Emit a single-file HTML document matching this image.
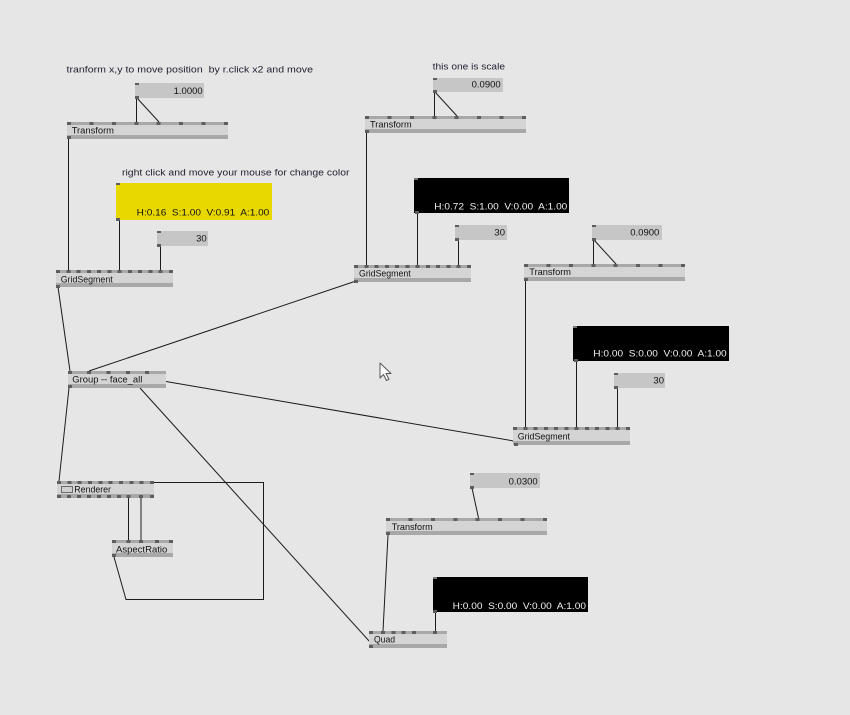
<!DOCTYPE html>
<html><head><meta charset="utf-8"><style>
html,body{margin:0;padding:0;background:#e6e6e6;}
svg{display:block;}
text{font-family:"Liberation Sans",sans-serif;font-size:9.5px;fill:#111;}
.c{fill:#1e1e2e;}
.w{fill:#f2f2f2;}
.nb{fill:#c6c6c6;}
.bd{fill:#d4d4d4;}
.bar{fill:#a8a8a8;}
.pin{fill:#5e5e5e;}
</style></head><body>
<svg width="850" height="715" viewBox="0 0 850 715" xmlns="http://www.w3.org/2000/svg">
<rect width="850" height="715" fill="#e6e6e6"/>

<!-- links -->
<g stroke="#1c1c1c" stroke-width="1" fill="none">
<line x1="136.5" y1="98" x2="136.5" y2="122"/>
<line x1="137" y1="98" x2="159" y2="122"/>
<line x1="68.5" y1="139" x2="68.5" y2="270"/>
<line x1="119.5" y1="220" x2="119.5" y2="270"/>
<line x1="160.5" y1="246" x2="160.5" y2="270"/>
<line x1="58" y1="287" x2="70" y2="371"/>
<line x1="89" y1="371" x2="356" y2="281"/>
<line x1="166" y1="381.5" x2="514" y2="441"/>
<line x1="140" y1="388" x2="370" y2="642"/>
<line x1="69" y1="388" x2="59" y2="481"/>
<line x1="128.5" y1="498" x2="128.5" y2="540"/>
<line x1="141" y1="498" x2="141" y2="540"/>
<polyline points="152,482.5 263.5,482.5 263.5,599.5 126,599.5 114,557"/>
<line x1="434.5" y1="92" x2="434.5" y2="116"/>
<line x1="435" y1="92" x2="457" y2="116"/>
<line x1="366.5" y1="133" x2="366.5" y2="265"/>
<line x1="417.5" y1="213" x2="417.5" y2="265"/>
<line x1="458.5" y1="240" x2="458.5" y2="265"/>
<line x1="593.5" y1="240" x2="593.5" y2="264"/>
<line x1="594" y1="240" x2="616" y2="264"/>
<line x1="525.5" y1="281" x2="525.5" y2="427"/>
<line x1="576.5" y1="361" x2="576.5" y2="427"/>
<line x1="617.5" y1="388" x2="617.5" y2="427"/>
<line x1="472" y1="488" x2="478.5" y2="518"/>
<line x1="388" y1="535" x2="383" y2="631"/>
<line x1="435.5" y1="612" x2="435.5" y2="631"/>
</g>

<!-- comments -->
<text x="66.5" y="72.5" textLength="246.5" lengthAdjust="spacingAndGlyphs" class="c" xml:space="preserve">tranform x,y to move position  by r.click x2 and move</text>
<text x="122" y="175.7" textLength="227.5" lengthAdjust="spacingAndGlyphs" class="c">right click and move your mouse for change color</text>
<text x="432.7" y="69.3" textLength="72.3" lengthAdjust="spacingAndGlyphs" class="c">this one is scale</text>

<g shape-rendering="crispEdges">
<!-- number boxes -->
<rect x="135" y="83" width="69" height="15" class="nb"/><rect x="135" y="83" width="4" height="2" class="pin"/><rect x="135" y="96" width="4" height="3" class="pin"/>
<rect x="157" y="231" width="51" height="15" class="nb"/><rect x="157" y="231" width="4" height="2" class="pin"/><rect x="157" y="244" width="4" height="3" class="pin"/>
<rect x="433" y="78" width="70" height="14" class="nb"/><rect x="433" y="78" width="4" height="2" class="pin"/><rect x="433" y="90" width="4" height="3" class="pin"/>
<rect x="455" y="225" width="52" height="15" class="nb"/><rect x="455" y="225" width="4" height="2" class="pin"/><rect x="455" y="238" width="4" height="3" class="pin"/>
<rect x="592" y="225" width="70" height="15" class="nb"/><rect x="592" y="225" width="4" height="2" class="pin"/><rect x="592" y="238" width="4" height="3" class="pin"/>
<rect x="614" y="373" width="51" height="15" class="nb"/><rect x="614" y="373" width="4" height="2" class="pin"/><rect x="614" y="386" width="4" height="3" class="pin"/>
<rect x="470" y="473" width="70" height="15" class="nb"/><rect x="470" y="473" width="4" height="2" class="pin"/><rect x="470" y="486" width="4" height="3" class="pin"/>

<!-- color boxes -->
<rect x="116" y="183" width="156" height="37" fill="#e8d800"/><rect x="116" y="183" width="4" height="2" class="pin"/><rect x="116" y="218" width="4" height="3" class="pin"/>
<rect x="414" y="178" width="155" height="35" fill="#000"/><rect x="414" y="178" width="4" height="2" fill="#777"/><rect x="415" y="211" width="4" height="3" class="pin"/>
<rect x="573" y="326" width="156" height="35" fill="#000"/><rect x="573" y="326" width="4" height="2" fill="#777"/><rect x="574" y="359" width="4" height="3" class="pin"/>
<rect x="433" y="577" width="155" height="35" fill="#000"/><rect x="433" y="577" width="4" height="2" fill="#777"/><rect x="433" y="610" width="4" height="3" class="pin"/>

<!-- nodes: Transform1 -->
<rect x="67" y="122" width="161" height="17" class="bd"/><rect x="67" y="122" width="161" height="3" class="bar"/><rect x="67" y="135" width="161" height="4" class="bar"/>
<g class="pin"><rect x="67" y="122" width="4" height="3"/><rect x="89.4" y="122" width="4" height="3"/><rect x="111.9" y="122" width="4" height="3"/><rect x="134.3" y="122" width="4" height="3"/><rect x="156.7" y="122" width="4" height="3"/><rect x="179.1" y="122" width="4" height="3"/><rect x="201.6" y="122" width="4" height="3"/><rect x="224" y="122" width="4" height="3"/><rect x="67" y="136" width="4" height="3"/></g>

<!-- Transform2 -->
<rect x="365" y="116" width="161" height="17" class="bd"/><rect x="365" y="116" width="161" height="3" class="bar"/><rect x="365" y="129" width="161" height="4" class="bar"/>
<g class="pin"><rect x="365" y="116" width="4" height="3"/><rect x="387.4" y="116" width="4" height="3"/><rect x="409.9" y="116" width="4" height="3"/><rect x="432.3" y="116" width="4" height="3"/><rect x="454.7" y="116" width="4" height="3"/><rect x="477.1" y="116" width="4" height="3"/><rect x="499.6" y="116" width="4" height="3"/><rect x="522" y="116" width="4" height="3"/><rect x="365" y="130" width="4" height="3"/></g>

<!-- Transform3 -->
<rect x="524" y="264" width="161" height="17" class="bd"/><rect x="524" y="264" width="161" height="3" class="bar"/><rect x="524" y="277" width="161" height="4" class="bar"/>
<g class="pin"><rect x="524" y="264" width="4" height="3"/><rect x="546.4" y="264" width="4" height="3"/><rect x="568.9" y="264" width="4" height="3"/><rect x="591.3" y="264" width="4" height="3"/><rect x="613.7" y="264" width="4" height="3"/><rect x="636.1" y="264" width="4" height="3"/><rect x="658.6" y="264" width="4" height="3"/><rect x="681" y="264" width="4" height="3"/><rect x="524" y="278" width="4" height="3"/></g>

<!-- Transform4 -->
<rect x="386" y="518" width="161" height="17" class="bd"/><rect x="386" y="518" width="161" height="3" class="bar"/><rect x="386" y="531" width="161" height="4" class="bar"/>
<g class="pin"><rect x="386" y="518" width="4" height="3"/><rect x="408.4" y="518" width="4" height="3"/><rect x="430.9" y="518" width="4" height="3"/><rect x="453.3" y="518" width="4" height="3"/><rect x="475.7" y="518" width="4" height="3"/><rect x="498.1" y="518" width="4" height="3"/><rect x="520.6" y="518" width="4" height="3"/><rect x="543" y="518" width="4" height="3"/><rect x="386" y="532" width="4" height="3"/></g>

<!-- GridSegment1 -->
<rect x="56" y="270" width="117" height="17" class="bd"/><rect x="56" y="270" width="117" height="3" class="bar"/><rect x="56" y="283" width="117" height="4" class="bar"/>
<g class="pin"><rect x="56" y="270" width="4" height="3"/><rect x="66.3" y="270" width="4" height="3"/><rect x="76.5" y="270" width="4" height="3"/><rect x="86.8" y="270" width="4" height="3"/><rect x="97.1" y="270" width="4" height="3"/><rect x="107.4" y="270" width="4" height="3"/><rect x="117.6" y="270" width="4" height="3"/><rect x="127.9" y="270" width="4" height="3"/><rect x="138.2" y="270" width="4" height="3"/><rect x="148.5" y="270" width="4" height="3"/><rect x="158.7" y="270" width="4" height="3"/><rect x="169" y="270" width="4" height="3"/><rect x="56" y="285" width="4" height="3"/></g>

<!-- GridSegment2 -->
<rect x="354" y="265" width="117" height="17" class="bd"/><rect x="354" y="265" width="117" height="3" class="bar"/><rect x="354" y="278" width="117" height="4" class="bar"/>
<g class="pin"><rect x="354" y="265" width="4" height="3"/><rect x="364.3" y="265" width="4" height="3"/><rect x="374.5" y="265" width="4" height="3"/><rect x="384.8" y="265" width="4" height="3"/><rect x="395.1" y="265" width="4" height="3"/><rect x="405.4" y="265" width="4" height="3"/><rect x="415.6" y="265" width="4" height="3"/><rect x="425.9" y="265" width="4" height="3"/><rect x="436.2" y="265" width="4" height="3"/><rect x="446.5" y="265" width="4" height="3"/><rect x="456.7" y="265" width="4" height="3"/><rect x="467" y="265" width="4" height="3"/><rect x="354" y="280" width="4" height="3"/></g>

<!-- GridSegment3 -->
<rect x="513" y="427" width="117" height="18" class="bd"/><rect x="513" y="427" width="117" height="3" class="bar"/><rect x="513" y="441" width="117" height="4" class="bar"/>
<g class="pin"><rect x="513" y="427" width="4" height="3"/><rect x="523.3" y="427" width="4" height="3"/><rect x="533.5" y="427" width="4" height="3"/><rect x="543.8" y="427" width="4" height="3"/><rect x="554.1" y="427" width="4" height="3"/><rect x="564.4" y="427" width="4" height="3"/><rect x="574.6" y="427" width="4" height="3"/><rect x="584.9" y="427" width="4" height="3"/><rect x="595.2" y="427" width="4" height="3"/><rect x="605.5" y="427" width="4" height="3"/><rect x="615.7" y="427" width="4" height="3"/><rect x="626" y="427" width="4" height="3"/><rect x="514" y="443" width="4" height="3"/></g>

<!-- Group -->
<rect x="68" y="371" width="98" height="17" class="bd"/><rect x="68" y="371" width="98" height="3" class="bar"/><rect x="68" y="384" width="98" height="4" class="bar"/>
<g class="pin"><rect x="68" y="371" width="4" height="3"/><rect x="87" y="371" width="4" height="3"/><rect x="106.5" y="371" width="4" height="3"/><rect x="126" y="371" width="4" height="3"/><rect x="145" y="371" width="4" height="3"/><rect x="68" y="385" width="4" height="3"/></g>

<!-- Renderer -->
<rect x="57" y="481" width="97" height="17" class="bd"/><rect x="57" y="481" width="97" height="3" class="bar"/><rect x="57" y="494" width="97" height="4" class="bar"/>
<g class="pin"><rect x="57" y="481" width="4" height="3"/><rect x="67.3" y="481" width="4" height="3"/><rect x="77.7" y="481" width="4" height="3"/><rect x="88" y="481" width="4" height="3"/><rect x="98.3" y="481" width="4" height="3"/><rect x="108.7" y="481" width="4" height="3"/><rect x="119" y="481" width="4" height="3"/><rect x="129.3" y="481" width="4" height="3"/><rect x="139.7" y="481" width="4" height="3"/><rect x="150" y="481" width="4" height="3"/>
<rect x="57" y="495" width="4" height="3"/><rect x="67" y="495" width="4" height="3"/><rect x="77" y="495" width="4" height="3"/><rect x="87" y="495" width="4" height="3"/><rect x="97" y="495" width="4" height="3"/><rect x="107" y="495" width="4" height="3"/><rect x="117" y="495" width="4" height="3"/><rect x="126.5" y="495" width="4" height="3"/><rect x="139" y="495" width="4" height="3"/><rect x="150" y="495" width="4" height="3"/></g>
<rect x="61.5" y="486.5" width="11" height="6" fill="#cfcfcf" stroke="#6a6a6a" stroke-width="1"/>

<!-- AspectRatio -->
<rect x="112" y="540" width="61" height="17" class="bd"/><rect x="112" y="540" width="61" height="3" class="bar"/><rect x="112" y="553" width="61" height="4" class="bar"/>
<g class="pin"><rect x="112" y="540" width="4" height="3"/><rect x="126.5" y="540" width="4" height="3"/><rect x="139" y="540" width="4" height="3"/><rect x="155" y="540" width="4" height="3"/><rect x="169" y="540" width="4" height="3"/><rect x="112" y="554" width="4" height="3"/></g>

<!-- Quad -->
<rect x="369" y="631" width="78" height="17" class="bd"/><rect x="369" y="631" width="78" height="3" class="bar"/><rect x="369" y="644" width="78" height="4" class="bar"/>
<g class="pin"><rect x="369" y="631" width="4" height="3"/><rect x="381" y="631" width="4" height="3"/><rect x="391.5" y="631" width="4" height="3"/><rect x="401.5" y="631" width="4" height="3"/><rect x="412" y="631" width="4" height="3"/><rect x="433" y="631" width="4" height="3"/><rect x="369" y="645" width="4" height="3"/></g>
</g>

<!-- number texts -->
<text x="202.7" y="94" text-anchor="end">1.0000</text>
<text x="206.7" y="241.7" text-anchor="end">30</text>
<text x="500.7" y="87.7" text-anchor="end">0.0900</text>
<text x="505" y="235.7" text-anchor="end">30</text>
<text x="659.3" y="235.7" text-anchor="end">0.0900</text>
<text x="664" y="383.3" text-anchor="end">30</text>
<text x="537.7" y="484.3" text-anchor="end">0.0300</text>

<!-- color texts -->
<text x="136.7" y="215.7" textLength="132.6" lengthAdjust="spacingAndGlyphs" xml:space="preserve">H:0.16  S:1.00  V:0.91  A:1.00</text>
<text x="434.3" y="209.3" textLength="133" lengthAdjust="spacingAndGlyphs" class="w" xml:space="preserve">H:0.72  S:1.00  V:0.00  A:1.00</text>
<text x="593.3" y="356.7" textLength="133.4" lengthAdjust="spacingAndGlyphs" class="w" xml:space="preserve">H:0.00  S:0.00  V:0.00  A:1.00</text>
<text x="452.7" y="609" textLength="133.3" lengthAdjust="spacingAndGlyphs" class="w" xml:space="preserve">H:0.00  S:0.00  V:0.00  A:1.00</text>

<!-- node labels -->
<text x="71.7" y="133.3" textLength="42.3" lengthAdjust="spacingAndGlyphs">Transform</text>
<text x="370" y="127.3" textLength="41.7" lengthAdjust="spacingAndGlyphs">Transform</text>
<text x="529.3" y="275" textLength="41.7" lengthAdjust="spacingAndGlyphs">Transform</text>
<text x="391.7" y="530" textLength="41" lengthAdjust="spacingAndGlyphs">Transform</text>
<text x="60.7" y="282.3" textLength="52" lengthAdjust="spacingAndGlyphs">GridSegment</text>
<text x="359" y="276.5" textLength="51.7" lengthAdjust="spacingAndGlyphs">GridSegment</text>
<text x="517.7" y="439.5" textLength="52.3" lengthAdjust="spacingAndGlyphs">GridSegment</text>
<text x="72.3" y="382.3" textLength="70" lengthAdjust="spacingAndGlyphs">Group -- face_all</text>
<text x="74.3" y="492.7" textLength="36.7" lengthAdjust="spacingAndGlyphs">Renderer</text>
<text x="116" y="552.3" textLength="51.3" lengthAdjust="spacingAndGlyphs">AspectRatio</text>
<text x="374" y="642.3" textLength="21" lengthAdjust="spacingAndGlyphs">Quad</text>

<!-- mouse cursor -->
<polygon points="380,363 380,378 383.5,374.5 386.5,380.5 389,379.3 386,373.5 391,373.5" fill="#fafafa" stroke="#555" stroke-width="1" stroke-linejoin="round"/>
</svg>
</body></html>
